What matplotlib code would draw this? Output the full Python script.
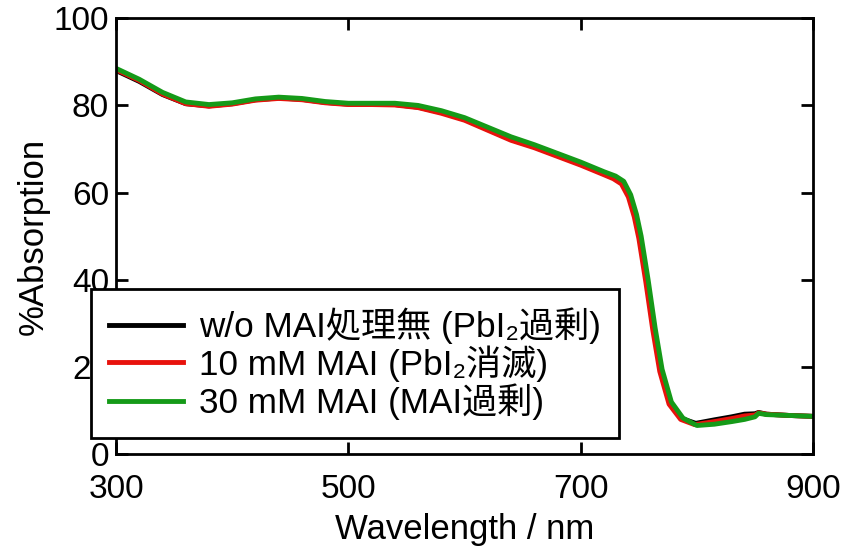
import matplotlib
matplotlib.use("Agg")
import matplotlib.pyplot as plt

plt.rcParams["font.family"] = ["Liberation Sans", "Noto Sans CJK JP"]

# spectra (wavelength in nm, %absorption)
wl_green = [300, 320, 340, 360, 380, 400, 420, 440, 460, 480, 500, 520, 540, 560,
            580, 600, 620, 640, 660, 680, 700, 720, 730, 737, 743, 748, 752, 758,
            764, 770, 778, 788, 800, 815, 830, 841, 850, 853, 860, 880, 900]
ab_green = [88.5, 86.0, 83.0, 80.8, 80.2, 80.6, 81.5, 81.9, 81.6, 80.9, 80.5, 80.5,
            80.5, 80.0, 78.8, 77.2, 75.0, 72.8, 71.0, 69.0, 67.0, 64.8, 63.8, 62.6,
            59.5, 55.0, 50.0, 40.0, 29.0, 19.5, 12.0, 8.3, 6.6, 6.9, 7.5, 8.0, 8.6,
            9.4, 9.1, 8.9, 8.7]

wl_red = [300, 320, 340, 360, 380, 400, 420, 440, 460, 480, 500, 520, 540, 560,
          580, 600, 620, 640, 660, 680, 700, 720, 728, 735, 741, 746, 750, 756,
          762, 768, 776, 786, 798, 815, 830, 841, 850, 853, 860, 880, 900]
ab_red = [88.2, 85.7, 82.6, 80.4, 79.8, 80.3, 81.2, 81.6, 81.3, 80.6, 80.2, 80.2,
          80.1, 79.5, 78.2, 76.6, 74.3, 72.0, 70.3, 68.3, 66.3, 64.1, 63.2, 62.0,
          59.0, 54.5, 49.5, 39.5, 28.5, 19.0, 11.5, 8.0, 6.8, 7.5, 8.2, 8.8, 9.0,
          9.5, 9.2, 8.9, 8.7]

wl_black = [300, 320, 340, 360, 380, 400, 420, 440, 460, 480, 500, 520, 540, 560,
            580, 600, 620, 640, 660, 680, 700, 720, 729, 736, 742, 747, 751, 757,
            763, 769, 777, 787, 799, 815, 830, 841, 850, 853, 860, 880, 900]
ab_black = [88.0, 85.5, 82.5, 80.4, 79.9, 80.4, 81.3, 81.7, 81.4, 80.7, 80.3, 80.3,
            80.2, 79.6, 78.4, 76.8, 74.5, 72.2, 70.5, 68.5, 66.5, 64.3, 63.4, 62.2,
            59.2, 54.8, 49.8, 39.8, 28.8, 19.2, 11.8, 8.2, 7.1, 7.9, 8.6, 9.2, 9.3,
            9.6, 9.2, 8.9, 8.7]

labels = ["w/o MAI処理無 (PbI₂過剰)", "10 mM MAI (PbI₂消滅)", "30 mM MAI (MAI過剰)"]
colors = ["#000000", "#e8120c", "#159a18"]

xticks = [300, 500, 700, 900]
yticks = [0, 20, 40, 60, 80, 100]

fig = plt.figure(figsize=(8.47, 5.52), dpi=100)
ax = fig.add_axes([0.137, 0.177, 0.823, 0.790])

series = [(wl_black, ab_black), (wl_red, ab_red), (wl_green, ab_green)]
for (wl, ab), lab, c in zip(series, labels, colors):
    ax.plot(wl, ab, color=c, lw=3.5, label=lab, solid_joinstyle="round")

ax.set_xlim(300, 900)
ax.set_ylim(0, 100)
ax.set_xticks(xticks)
ax.set_yticks(yticks)
ax.tick_params(direction="in", length=8.5, width=2, labelsize=24,
               top=True, right=True)
ax.tick_params(axis="x", pad=14)
ax.tick_params(axis="y", pad=5)
for s in ax.spines.values():
    s.set_linewidth(2)

ax.set_xlabel("Wavelength / nm", fontsize=25, labelpad=6)
ax.set_ylabel("%Absorption", fontsize=25, labelpad=3)

leg = ax.legend(loc="lower left", bbox_to_anchor=(-0.036, 0.037), borderaxespad=0,
                fontsize=25.3, fancybox=False, framealpha=1, edgecolor="black",
                handlelength=2.1, handletextpad=0.45, labelspacing=0.04,
                borderpad=0.52)
leg.get_frame().set_linewidth(2)
leg.set_zorder(10)

fig.savefig("out.png", dpi=100)
